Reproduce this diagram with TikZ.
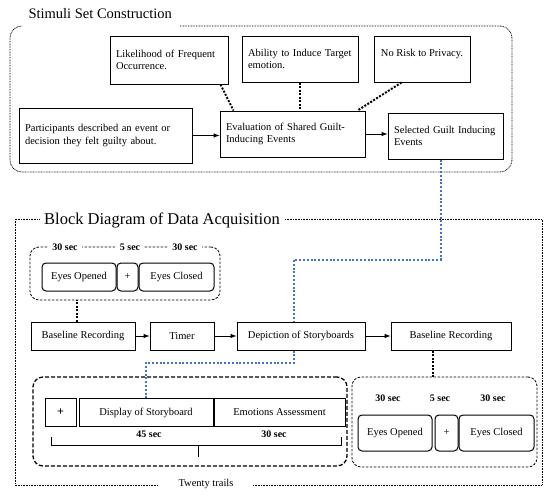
\documentclass[tikz,border=0pt]{standalone}
\usepackage{fontspec}
\setmainfont{Liberation Serif}
\usetikzlibrary{positioning}

\definecolor{linkblue}{RGB}{68,114,196}
\newcommand\boxfont{\fontsize{10.5}{12.5}\selectfont}

\tikzset{
  frame/.style={draw, line width=0.8pt, dash pattern=on 0.8pt off 0.8pt},
  tbox/.style={draw, line width=1pt, align=left, inner xsep=6pt, font=\boxfont},
  rbox/.style={draw, line width=1pt, rounded corners=4pt, inner sep=1pt, font=\fontsize{10.5}{12}\selectfont},
  grp/.style={draw, line width=0.8pt, rounded corners=9pt, dash pattern=on 2.5pt off 1.5pt},
  trialbox/.style={draw, line width=1.3pt, rounded corners=10pt, dash pattern=on 4pt off 2pt},
  tag/.style={fill=white, font=\bfseries\fontsize{10}{12}\selectfont, inner ysep=2pt, inner xsep=4pt},
  link/.style={line width=2pt, dash pattern=on 2pt off 1.5pt},
  flow/.style={->, >=latex, line width=1pt},
  blueline/.style={draw=linkblue, line width=2pt, dash pattern=on 2pt off 1.8pt}
}

\begin{document}
\begin{tikzpicture}[x=1pt, y=-1pt]
\useasboundingbox (0,0) rectangle (550,496);

% stimuli set construction
\draw[frame, rounded corners=12pt] (180,26) -- (512,26) -- (512,172) -- (10,172) -- (10,26) -- (22,26);
\node[anchor=west, font=\fontsize{14.5}{16}\selectfont] (title1) at (25,14) {Stimuli Set Construction};

\node[tbox, minimum width=118pt, minimum height=48pt, text width=106pt] (like) at (169,60) {Likelihood of Frequent\\Occurrence.};
\node[tbox, minimum width=116pt, minimum height=46pt, text width=104pt] (abil) at (300,59) {Ability to Induce Target\\emotion.};
\node[tbox, minimum width=96pt, minimum height=46pt, align=center] (risk) at (422,59) {No Risk to Privacy.\\ \mbox{}};
\node[tbox, minimum width=173pt, minimum height=55pt, text width=161pt] (part) at (105.5,135.5) {Participants described an event or\\decision they felt guilty about.};
\node[tbox, minimum width=145pt, minimum height=46pt, text width=133pt] (eval) at (292.5,134) {Evaluation of Shared Guilt-\\Inducing Events};
\node[tbox, minimum width=115pt, minimum height=46pt, text width=103pt] (sel) at (445.5,136) {Selected Guilt Inducing\\Events};

\draw[flow] (part.east) -- (part.east -| eval.west);
\draw[flow] (eval.east) -- (eval.east -| sel.west);
\draw[link] ([xshift=-8pt]like.south east) -- ([xshift=14pt]eval.north west);
\draw[link] (abil.south) -- (abil.south |- eval.north);
\draw[link] ([xshift=28pt]risk.south west) -- ([xshift=-8pt]eval.north east);

% block diagram of data acquisition
\draw[frame] (15,219) rectangle (542,485);
\node[anchor=west, fill=white, inner xsep=4pt, font=\fontsize{16.5}{18}\selectfont] (title2) at (40,220) {Block Diagram of Data Acquisition};
\node[fill=white, inner xsep=20pt, inner ysep=1pt, font=\boxfont] (trails) at (206,484) {Twenty trails};

% baseline before
\node[grp, minimum width=190pt, minimum height=53pt] (base1) at (125,273.5) {};
\node[tag] at (65,247) {30 sec};
\node[tag] at (130,247) {5 sec};
\node[tag] at (185,247) {30 sec};
\node[rbox, minimum width=74pt, minimum height=28pt] (eo1) at (79,277) {Eyes Opened};
\node[rbox, minimum width=21pt, minimum height=28pt, right=0pt of eo1] (pl1) {+};
\node[rbox, minimum width=75pt, minimum height=28pt, right=0pt of pl1] (ec1) {Eyes Closed};

% main row
\node[tbox, minimum width=104pt, minimum height=28pt, align=center] (br1) at (83,336) {Baseline Recording};
\node[tbox, minimum width=64pt, minimum height=28pt, align=center, right=14pt of br1] (timer) {Timer};
\node[tbox, minimum width=128pt, minimum height=28pt, align=center, right=22pt of timer] (dep) {Depiction of Storyboards};
\node[tbox, minimum width=120pt, minimum height=28pt, align=center, right=25pt of dep] (br2) {Baseline Recording};

\draw[flow] (br1) -- (timer);
\draw[flow] (timer) -- (dep);
\draw[flow] (dep) -- (br2);
\draw[link] ([xshift=-6pt]br1.north) -- ([xshift=-6pt]br1.north |- base1.south);

% one trial
\node[trialbox, minimum width=314pt, minimum height=89pt] (trial) at (190,421.5) {};
\node[tbox, minimum width=31pt, minimum height=27.5pt, align=center, font=\bfseries\fontsize{12}{14}\selectfont] (pl2) at (60.5,412.5) {+};
\node[tbox, minimum width=134pt, minimum height=27.5pt, align=center, right=2pt of pl2] (disp) {Display of Storyboard};
\node[tbox, minimum width=131pt, minimum height=27.5pt, align=center, right=0pt of disp] (emo) {Emotions Assessment};
\node[tag, inner xsep=12pt] at (149,434) {45 sec};
\node[tag, inner xsep=14pt] at (274,434) {30 sec};
\draw[line width=0.8pt] (51,437) -- (51,445) -- (341,445) -- (341,437);
\draw[line width=0.8pt] (198,445) -- (198,457);

% baseline after
\node[grp, minimum width=185pt, minimum height=90pt] (base2) at (444.5,422) {};
\node[tag] at (388,398) {30 sec};
\node[tag] at (440,398) {5 sec};
\node[tag] at (493,398) {30 sec};
\node[rbox, minimum width=74pt, minimum height=36pt] (eo2) at (395,433) {Eyes Opened};
\node[rbox, minimum width=23pt, minimum height=36pt, right=2pt of eo2] (pl2b) {+};
\node[rbox, minimum width=75pt, minimum height=36pt, right=0pt of pl2b] (ec2) {Eyes Closed};
\draw[link] ([xshift=-18pt]br2.south) -- ([xshift=-18pt]br2.south |- base2.north);

% blue path
\draw[blueline] ([xshift=-5pt]sel.south) -- ++(0,100) -| ([xshift=-7pt]dep.north);
\draw[blueline] ([xshift=-7pt]dep.south) -- ++(0,12) -| (disp.north);
\end{tikzpicture}
\end{document}
